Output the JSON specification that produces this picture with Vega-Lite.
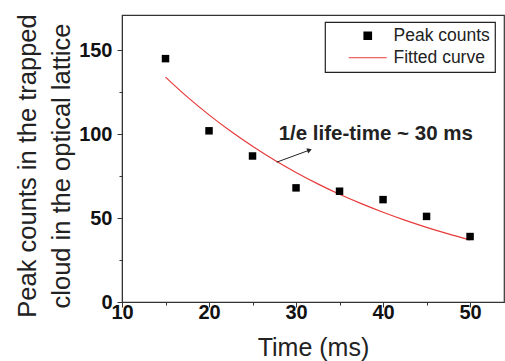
{
  "$schema": "https://vega.github.io/schema/vega-lite/v6.json",
  "width": 382,
  "height": 287,
  "autosize": {"type": "none"},
  "padding": {"left": 122, "top": 15, "right": 1, "bottom": 59},
  "background": "white",
  "config": {
    "font": "Liberation Sans",
    "view": {"stroke": "#333", "strokeWidth": 1.2},
    "axis": {"grid": false, "domainColor": "#333", "tickColor": "#333", "labelColor": "#111", "titleColor": "#222", "labelFont": "Liberation Sans", "titleFont": "Liberation Sans", "labelFontWeight": "bold", "labelFontSize": 20, "titleFontWeight": "normal", "titleFontSize": 25}
  },
  "datasets": {
    "peaks": [
      {"t": 15, "c": 145, "series": "Peak counts"},
      {"t": 20, "c": 102, "series": "Peak counts"},
      {"t": 25, "c": 87, "series": "Peak counts"},
      {"t": 30, "c": 68, "series": "Peak counts"},
      {"t": 35, "c": 66, "series": "Peak counts"},
      {"t": 40, "c": 61, "series": "Peak counts"},
      {"t": 45, "c": 51, "series": "Peak counts"},
      {"t": 50, "c": 39, "series": "Peak counts"}
    ],
    "fit": [
      {"t": 15, "c": 134, "series": "Fitted curve"},
      {"t": 17.5, "c": 122.2, "series": "Fitted curve"},
      {"t": 20, "c": 111.5, "series": "Fitted curve"},
      {"t": 22.5, "c": 101.7, "series": "Fitted curve"},
      {"t": 25, "c": 92.8, "series": "Fitted curve"},
      {"t": 27.5, "c": 84.6, "series": "Fitted curve"},
      {"t": 30, "c": 77.2, "series": "Fitted curve"},
      {"t": 32.5, "c": 70.4, "series": "Fitted curve"},
      {"t": 35, "c": 64.2, "series": "Fitted curve"},
      {"t": 37.5, "c": 58.6, "series": "Fitted curve"},
      {"t": 40, "c": 53.5, "series": "Fitted curve"},
      {"t": 42.5, "c": 48.8, "series": "Fitted curve"},
      {"t": 45, "c": 44.5, "series": "Fitted curve"},
      {"t": 47.5, "c": 40.6, "series": "Fitted curve"},
      {"t": 50, "c": 37.0, "series": "Fitted curve"}
    ],
    "note": [
      {"t": 28.0, "c": 100, "label": "1/e life-time ~ 30 ms"}
    ],
    "arrow": [
      {"t": 27.77, "c": 83.3, "t2": 31.55, "c2": 90.5}
    ]
  },
  "layer": [
    {
      "data": {"name": "fit"},
      "mark": {"type": "line", "strokeWidth": 1.2, "interpolate": "monotone"},
      "encoding": {
        "x": {"field": "t", "type": "quantitative", "scale": {"domain": [10, 53.9], "nice": false},
          "axis": {"values": [10, 15, 20, 25, 30, 35, 40, 45, 50], "labelExpr": "datum.value % 10 === 0 ? datum.label : ''", "labelFlush": false, "tickSize": {"condition": {"test": "datum.value % 10 !== 0", "value": 3}, "value": 5}, "labelPadding": -5, "title": "Time (ms)", "titlePadding": 13}},
        "y": {"field": "c", "type": "quantitative", "scale": {"domain": [0, 171], "nice": false},
          "axis": {"values": [0, 25, 50, 75, 100, 125, 150], "labelExpr": "datum.value % 50 === 0 ? datum.label : ''", "labelFlush": false, "tickSize": {"condition": {"test": "datum.value % 50 !== 0", "value": 3}, "value": 5}, "labelPadding": 5, "title": ["Peak counts in the trapped", "cloud in the optical lattice"], "titleLineHeight": 34, "titlePadding": 4, "titleY": 150.5, "titleFontSize": 25.5}},
        "color": {"field": "series", "type": "nominal",
          "scale": {"domain": ["Peak counts", "Fitted curve"], "range": ["black", "#e83a3a"]},
          "legend": {
            "orient": "none", "legendX": 203, "legendY": 7, "title": null,
            "strokeColor": "#222", "fillColor": "white", "padding": 5,
            "labelFont": "Liberation Sans", "labelFontSize": 17.5, "labelColor": "#222",
            "rowPadding": 3, "labelOffset": 17, "symbolOffset": 29,
            "labelExpr": "datum.label + '\u00a0\u00a0'",
            "encode": {
              "legend": {"update": {"stroke": {"value": "#222"}, "strokeWidth": {"value": 1.2}}},
              "symbols": {"update": {
                "shape": {"signal": "datum.value === 'Fitted curve' ? 'stroke' : 'square'"},
                "size": {"signal": "datum.value === 'Fitted curve' ? 1444 : 56"},
                "fill": {"signal": "datum.value === 'Fitted curve' ? 'transparent' : 'black'"},
                "stroke": {"signal": "datum.value === 'Fitted curve' ? '#e83a3a' : 'black'"},
                "strokeWidth": {"value": 1.2},
                "opacity": {"value": 1}
              }}
            }
          }}
      }
    },
    {
      "data": {"name": "peaks"},
      "mark": {"type": "point", "shape": "square", "filled": true, "size": 56, "opacity": 1},
      "encoding": {
        "x": {"field": "t", "type": "quantitative"},
        "y": {"field": "c", "type": "quantitative"},
        "color": {"field": "series", "type": "nominal"}
      }
    },
    {
      "data": {"name": "arrow"},
      "mark": {"type": "rule", "color": "#222", "strokeWidth": 1},
      "encoding": {
        "x": {"field": "t", "type": "quantitative"},
        "y": {"field": "c", "type": "quantitative"},
        "x2": {"field": "t2"},
        "y2": {"field": "c2"}
      }
    },
    {
      "data": {"name": "arrow"},
      "mark": {"type": "point", "shape": "triangle-right", "filled": true, "color": "#222", "size": 30, "angle": 340, "opacity": 1},
      "encoding": {
        "x": {"field": "t2", "type": "quantitative"},
        "y": {"field": "c2", "type": "quantitative"}
      }
    },
    {
      "data": {"name": "note"},
      "mark": {"type": "text", "align": "left", "baseline": "middle", "font": "Liberation Sans", "fontWeight": "bold", "fontSize": 20.5, "color": "#222"},
      "encoding": {
        "x": {"field": "t", "type": "quantitative"},
        "y": {"field": "c", "type": "quantitative"},
        "text": {"field": "label"}
      }
    }
  ]
}
